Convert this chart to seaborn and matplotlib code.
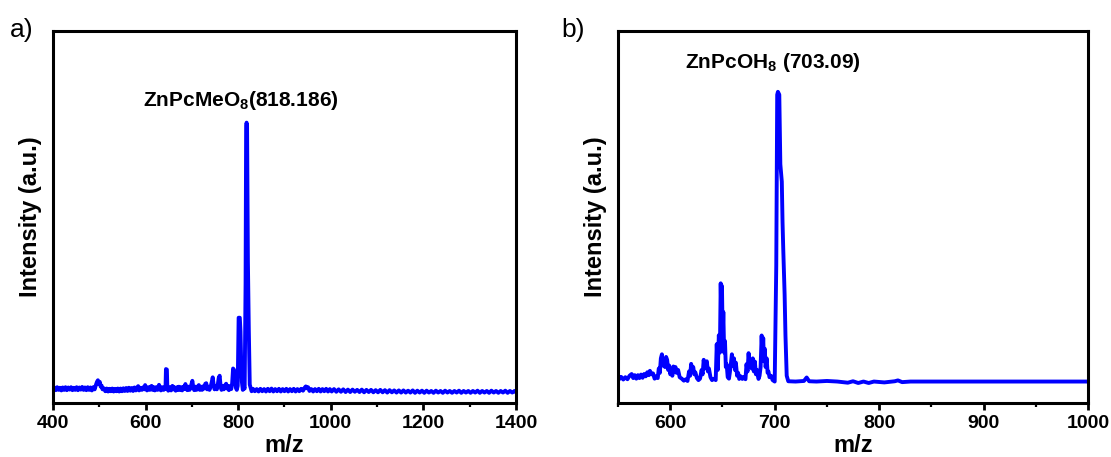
import pandas as pd
import matplotlib
matplotlib.use("Agg")
import matplotlib.pyplot as plt
from matplotlib.ticker import MultipleLocator
import seaborn as sns

# ---- spectrum a: ZnPcMeO8, (m/z, relative intensity) ----
spectrum_a = [
    (400, 0.1), (403, 0.9), (406, -0.1), (409, 1.0), (412, 0.0), (415, 0.8), (418, -0.2),
    (421, 0.9), (424, 0.0), (427, 1.0), (430, -0.1), (433, 0.9), (436, 0.1), (439, 1.0),
    (442, -0.1), (445, 0.8), (448, 0.0), (451, 1.0), (454, -0.1), (457, 0.9), (460, 0.1),
    (463, 1.1), (466, 0.0), (469, 0.9), (472, -0.1), (475, 1.0), (478, 0.0), (481, 0.9),
    (484, -0.2), (487, 1.0), (490, 0.2),
    (493, 2.0), (495, 3.0), (497, 3.6), (499, 2.2), (501, 3.0), (503, 1.2), (505, 1.6),
    (507, 0.2),
    (510, 0.6), (513, -0.5), (516, 0.5), (519, -0.6), (522, 0.4), (525, -0.5), (528, 0.5),
    (531, -0.6), (534, 0.4), (537, -0.5), (540, 0.5), (543, -0.6), (546, 0.5), (549, -0.5),
    (552, 0.6), (555, -0.4), (558, 0.7), (561, -0.4), (564, 0.8), (567, -0.3), (570, 0.7),
    (573, -0.4), (576, 0.9), (579, -0.2),
    (582, 1.0), (584, 1.4), (586, -0.2), (589, 0.8), (592, 0.0), (595, 1.0), (597, 0.2),
    (599, 1.8), (601, 0.6), (603, -0.2), (606, 1.0), (609, 0.0), (611, 1.2), (613, 1.5),
    (615, 0.0), (618, 1.0), (620, -0.2), (623, 1.0), (626, 0.0), (629, 1.9), (631, 0.8),
    (633, -0.2), (636, 1.0), (639, 0.0), (641, 1.0), (643, 0.3), (644, 7.8), (646, 7.6),
    (647, 0.8), (649, -0.3), (652, 1.0), (655, -0.2), (658, 1.5), (660, 0.2), (662, 1.0),
    (665, -0.3), (668, 1.0), (670, 0.0), (672, 1.2), (674, 0.0), (677, 1.0), (679, -0.2),
    (682, 1.2), (684, 0.3), (686, 2.2), (688, 0.8), (690, -0.1), (693, 1.2), (695, 0.0),
    (698, 1.4), (700, 2.8), (701, 3.4), (703, 1.0), (705, -0.1), (708, 1.2), (710, 0.0),
    (713, 1.3), (715, 1.8), (717, 0.0), (720, 1.2), (722, 0.0), (725, 1.4), (727, 0.5),
    (729, 2.3), (731, 2.5), (733, 0.2), (736, 1.2), (738, 0.0), (741, 1.5), (743, 3.0),
    (745, 4.7), (747, 2.0), (749, 0.2), (752, 1.5), (754, 0.2), (756, 2.0), (758, 4.5),
    (760, 5.3), (762, 1.5), (764, 0.0), (767, 1.5), (769, 0.2), (772, 1.8), (774, 2.3),
    (776, 0.5), (778, 1.5), (780, -0.1), (783, 1.4), (785, 0.3), (787, 2.5), (789, 8.0),
    (791, 7.5), (793, 6.0), (795, 0.8), (797, 0.0), (799, 1.5), (801, 27.0), (803.5, 27.0),
    (805, 22.0), (806.5, 10.0), (808, 3.0), (810, 0.0), (812, 1.2), (814, 0.5),
    (816, 40.0), (817.2, 99.0), (818.186, 100.0), (819.2, 99.0), (821, 48.0), (823, 22.0),
    (825, 2.0), (827, 0.8), (829, -0.5),
    (832, 0.4), (836, -0.5), (840, 0.3), (844, -0.6), (848, 0.4), (852, -0.5), (856, 0.3),
    (860, -0.6), (864, 0.4), (868, -0.5), (872, 0.5), (876, -0.6), (880, 0.3), (884, -0.5),
    (888, 0.4), (892, -0.6), (896, 0.3), (900, -0.5), (904, 0.4), (908, -0.6), (912, 0.3),
    (916, -0.5), (920, 0.4), (924, -0.6), (928, 0.3), (932, -0.5), (936, 0.4), (940, -0.3),
    (944, 0.9), (946, 1.3), (948, 0.6), (951, 1.0), (954, -0.4), (958, 0.3), (962, -0.6),
    (966, 0.3), (970, -0.5), (974, 0.4), (978, -0.6), (982, 0.3), (986, -0.5), (990, 0.4),
    (994, -0.6), (998, 0.3),
    (1002, -0.6), (1007, 0.3), (1012, -0.7), (1017, 0.2), (1022, -0.7), (1027, 0.2),
    (1032, -0.8), (1037, 0.1), (1042, -0.8), (1047, 0.1), (1052, -0.7), (1057, 0.0),
    (1062, -0.8), (1067, 0.1), (1072, -0.9), (1077, 0.0), (1082, -0.8), (1087, 0.0),
    (1092, -0.9), (1097, -0.1), (1102, -0.9), (1107, 0.0), (1112, -0.9), (1117, -0.1),
    (1122, -1.0), (1127, -0.1), (1132, -0.9), (1137, -0.2), (1142, -1.0), (1147, -0.2),
    (1152, -1.0), (1157, -0.2), (1162, -1.0), (1167, -0.3), (1172, -1.0), (1177, -0.2),
    (1182, -1.1), (1187, -0.3), (1192, -1.0), (1197, -0.3), (1202, -1.1), (1207, -0.3),
    (1212, -1.0), (1217, -0.4), (1222, -1.1), (1227, -0.3), (1232, -1.0), (1237, -0.4),
    (1242, -1.1), (1247, -0.3), (1252, -1.0), (1257, -0.4), (1262, -1.1), (1267, -0.4),
    (1272, -1.0), (1277, -0.3), (1282, -1.1), (1287, -0.4), (1292, -1.0), (1297, -0.4),
    (1302, -1.1), (1307, -0.4), (1312, -1.0), (1317, -0.3), (1322, -1.1), (1327, -0.4),
    (1332, -1.0), (1337, -0.4), (1342, -1.1), (1347, -0.3), (1352, -1.0), (1357, -0.4),
    (1362, -1.1), (1367, -0.4), (1372, -1.0), (1377, -0.3), (1382, -1.1), (1387, -0.4),
    (1392, -1.0), (1397, -0.4), (1400, -0.8),
]

# ---- spectrum b: ZnPcOH8, (m/z, relative intensity) ----
spectrum_b = [
    (550, 2.3), (551, 0.8), (553, 1.6), (555, 0.7), (557, 1.5), (559, 0.8), (561, 2.0),
    (563, 2.6), (564.5, 1.2), (566, 2.2), (567.5, 1.0), (569, 2.2), (570.5, 1.2), (572, 2.4),
    (573.5, 1.3), (575, 2.6), (576.5, 1.8), (578, 3.2), (579.5, 2.2), (580.5, 3.7),
    (582, 2.5), (583.5, 2.8), (585, 1.0), (586.5, 1.8), (588, 1.2), (589, 4.5), (590, 3.0),
    (591, 8.0), (592, 9.4), (593, 5.5), (594, 6.5), (595, 5.0), (596, 8.5), (597, 7.5),
    (598, 4.0), (599, 5.5), (600, 2.5), (601, 3.8), (602, 2.0), (603, 5.2), (604, 3.5),
    (605, 5.0), (606, 3.0), (607.5, 4.0), (609, 1.5), (611, 1.0), (613, 0.3), (615, 0.8),
    (616.5, 0.2), (618, 3.5), (619, 2.0), (620, 6.1), (621, 4.0), (622, 5.0), (623, 2.5),
    (624, 3.2), (625.5, 1.2), (627, 0.5), (628.5, 1.0), (630, 4.0), (631, 2.5), (632, 7.5),
    (633, 4.5), (634, 6.0), (635, 7.0), (636, 3.5), (637, 4.5), (638.5, 1.5), (640, 0.5),
    (642, 1.0), (643.5, 0.5), (644.5, 12.9), (645.5, 4.0), (646.5, 16.0), (647.5, 10.0),
    (648.3, 33.9), (649, 20.0), (649.5, 33.0), (650.2, 15.0), (650.8, 24.0), (651.6, 10.0),
    (652.4, 14.0), (653.2, 5.0), (654, 6.0), (655, 1.5), (656.2, 1.0), (657, 3.0),
    (658, 6.0), (659, 9.4), (660, 5.5), (661, 8.0), (662, 4.0), (662.8, 6.5), (664, 2.0),
    (665, 3.0), (666, 0.9), (667.5, 1.8), (669, 0.9), (670.5, 1.6), (672, 0.8), (673, 6.0),
    (674, 3.5), (675, 9.8), (676, 5.0), (677, 7.0), (678, 4.5), (679, 8.0), (680, 3.5),
    (681, 6.9), (682, 2.5), (683, 4.0), (684.5, 0.9), (685.5, 2.0), (686.5, 5.0),
    (687.5, 15.9), (688.3, 8.0), (689, 15.0), (689.7, 7.0), (690.5, 11.3), (691.3, 5.0),
    (692.3, 8.0), (693.2, 3.0), (694, 3.5), (695, 1.5), (696.5, 2.0), (698, 0.5),
    (700, 0.0), (701.5, 40.0), (702.4, 99.0), (703.09, 100.0), (704.4, 99.0),
    (705.4, 75.0), (706.8, 69.0), (707.5, 55.0), (708.2, 45.6), (709.5, 30.0),
    (710.3, 16.0), (711.5, 2.0), (713, 0.1),
    (720, 0.0), (728, 0.2), (730.6, 1.4), (733, 0.1), (740, 0.0), (750, 0.2), (760, 0.0),
    (770, -0.4), (775, 0.1), (780, -0.5), (785, 0.0), (790, -0.5), (795, 0.0), (805, -0.3),
    (815, 0.1), (818, 0.4), (822, -0.2), (830, 0.0), (850, 0.0), (900, 0.0), (950, 0.0),
    (1000, 0.0),
]

label_a = r"ZnPcMeO$_\mathbf{8}$(818.186)"
label_b = r"ZnPcOH$_\mathbf{8}$ (703.09)"

sns.set_style("ticks")
plt.rcParams["font.family"] = ["Liberation Sans", "DejaVu Sans"]
plt.rcParams["mathtext.fontset"] = "custom"
plt.rcParams["mathtext.rm"] = "Liberation Sans"
plt.rcParams["mathtext.bf"] = "Liberation Sans:bold"
for key in ("text.color", "axes.labelcolor", "xtick.color", "ytick.color", "axes.edgecolor"):
    plt.rcParams[key] = "black"

BLUE = "#0000ff"

fig = plt.figure(figsize=(11.11, 4.57), dpi=100)
ax_a = fig.add_axes([0.0477, 0.1182, 0.4167, 0.814])
ax_b = fig.add_axes([0.5563, 0.1182, 0.4230, 0.814])

df_a = pd.DataFrame(spectrum_a, columns=["m/z", "Intensity"])
df_b = pd.DataFrame(spectrum_b, columns=["m/z", "Intensity"])

for ax, df in ((ax_a, df_a), (ax_b, df_b)):
    sns.lineplot(data=df, x="m/z", y="Intensity", ax=ax, color=BLUE,
                 linewidth=2.8, estimator=None, sort=False)
    ax.lines[0].set_solid_joinstyle("round")


def style_axis(ax, xlim, ylim, major, minor):
    ax.set_xlim(*xlim)
    ax.set_ylim(*ylim)
    ax.xaxis.set_major_locator(MultipleLocator(major))
    ax.xaxis.set_minor_locator(MultipleLocator(minor))
    ax.set_yticks([])
    for sp in ax.spines.values():
        sp.set_visible(True)
        sp.set_linewidth(2.2)
        sp.set_color("black")
    ax.tick_params(axis="x", which="major", direction="out", length=5, width=2,
                   pad=4, labelsize=14, colors="black")
    ax.tick_params(axis="x", which="minor", direction="out", length=3, width=1.6,
                   colors="black")
    for t in ax.get_xticklabels():
        t.set_fontweight("bold")
    ax.set_xlabel("m/z", fontsize=17, fontweight="bold", labelpad=1)
    ax.set_ylabel("Intensity (a.u.)", fontsize=17, fontweight="bold", labelpad=8)


style_axis(ax_a, (400, 1400), (-4.9, 134.3), 200, 100)
style_axis(ax_b, (550, 1000), (-7.4, 121), 100, 50)

ax_a.text(806, 106.4, label_a, ha="center", va="baseline", fontsize=15, fontweight="bold")
ax_b.text(698.4, 108.1, label_b, ha="center", va="baseline", fontsize=15, fontweight="bold")

fig.text(22 / 1111, 1 - 30 / 457, "a)", ha="center", va="center", fontsize=19)
fig.text(573 / 1111, 1 - 30 / 457, "b)", ha="center", va="center", fontsize=19)

fig.savefig("out.png", dpi=100)
